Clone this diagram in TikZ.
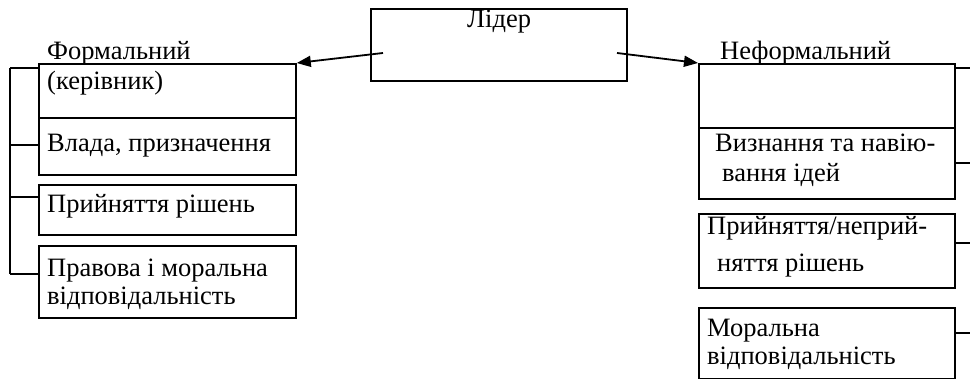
\documentclass[tikz,border=0pt]{standalone}
\usepackage{fontspec}
\setmainfont{Liberation Serif}
\usetikzlibrary{arrows.meta}
\begin{document}
\begin{tikzpicture}[x=1pt,y=-1pt,
  box/.style={draw,line width=1.8pt,inner sep=0pt,anchor=north west},
  lbl/.style={anchor=base west,inner sep=0pt,font=\fontsize{26.5}{28}\selectfont},
  link/.style={line width=1.8pt},
  arr/.style={line width=1.8pt,-{Triangle[length=14pt,width=11pt]}}]
\useasboundingbox (0,0) rectangle (970,379);
% centre
\node[box,minimum width=256pt,minimum height=72pt] (lead) at (370,8) {};
\node[lbl] (leadt) at (467,28) {Лідер};
\coordinate (la) at (383,53);
\coordinate (ra) at (617,53);
% left column
\node[box,minimum width=257pt,minimum height=54pt] (f1) at (38,63) {};
\node[box,minimum width=257pt,minimum height=57pt] (f2) at (38,117) {};
\node[box,minimum width=257pt,minimum height=50pt] (f3) at (38,184) {};
\node[box,minimum width=257pt,minimum height=72pt] (f4) at (38,245) {};
\node[lbl] (ft) at (47,60) {Формальний};
\node[lbl] (f1t) at (47,90) {(керівник)};
\node[lbl] (f2t) at (47,152) {Влада, призначення};
\node[lbl] (f3t) at (47,213) {Прийняття рішень};
\node[lbl] (f4t) at (47,277) {Правова і моральна};
\node[lbl] (f4u) at (47,305) {відповідальність};
% right column
\node[box,minimum width=256pt,minimum height=64pt] (n1) at (698,63) {};
\node[box,minimum width=256pt,minimum height=71pt] (n2) at (698,127) {};
\node[box,minimum width=256pt,minimum height=74pt] (n3) at (698,213) {};
\node[box,minimum width=256pt,minimum height=71pt] (n4) at (698,307) {};
\node[lbl] (nt) at (720,60) {Неформальний};
\node[lbl] (n2t) at (715,152) {Визнання та навію-};
\node[lbl] (n2u) at (722,182) {вання ідей};
\node[lbl] (n3t) at (707,235) {Прийняття/неприй-};
\node[lbl] (n3u) at (717,272) {няття рішень};
\node[lbl] (n4t) at (707,337) {Моральна};
\node[lbl] (n4u) at (707,365) {відповідальність};
% arrows
\draw[arr] (la) -- (f1.north east);
\draw[arr] (ra) -- (n1.north west);
% left bracket
\coordinate (bt) at (10,68);
\coordinate (bb) at (10,274);
\draw[link] (bt) -- (bb);
\draw[link] (bt) -- (bt -| f1.west);
\draw[link] (10,145) -- (f2.west |- 0,145);
\draw[link] (10,197) -- (f3.west |- 0,197);
\draw[link] (bb) -- (bb -| f4.west);
% right stubs
\coordinate (re) at (970,0);
\draw[link] (n1.east |- 0,68) -- (re |- 0,68);
\draw[link] (n2.east |- 0,163) -- (re |- 0,163);
\draw[link] (n3.east |- 0,243) -- (re |- 0,243);
\draw[link] (n4.east |- 0,333) -- (re |- 0,333);
\end{tikzpicture}
\end{document}
